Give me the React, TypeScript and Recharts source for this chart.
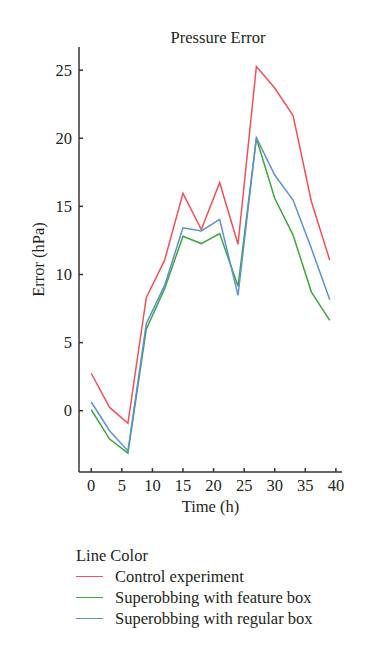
import * as React from "react";
import { LineChart, Line, XAxis, YAxis, Label } from "recharts";

const hours = [0, 3, 6, 9, 12, 15, 18, 21, 24, 27, 30, 33, 36, 39];
const control = [2.75, 0.24, -0.93, 8.3, 11.05, 15.96, 13.3, 16.74, 12.22, 25.26, 23.69, 21.67, 15.34, 11.05];
const featureBox = [0.07, -2.08, -3.12, 5.99, 8.96, 12.81, 12.27, 13.01, 9.13, 20.0, 15.59, 12.89, 8.71, 6.63];
const regularBox = [0.64, -1.47, -2.95, 6.38, 9.2, 13.43, 13.2, 14.04, 8.47, 20.05, 17.3, 15.46, 11.9, 8.15];

const xTicks = [0, 5, 10, 15, 20, 25, 30, 35, 40];
const yTicks = [0, 5, 10, 15, 20, 25];

const seriesNames = ["Control experiment", "Superobbing with feature box", "Superobbing with regular box"];
const seriesKeys = ["control", "feature", "regular"];
const seriesColors = ["#ef5159", "#3aa83a", "#5e90d6"];

const data = hours.map((t, i) => ({
  t,
  control: control[i],
  feature: featureBox[i],
  regular: regularBox[i],
}));

const FONT = '"Liberation Serif", "DejaVu Serif", serif';
const INK = "#231f20";
const AXIS = "#3b3331";
const TICK_GAP = 7;

function YTick({ x, y, payload }: any) {
  return (
    <g>
      <line x1={x + TICK_GAP} x2={x + TICK_GAP + 4} y1={y} y2={y} stroke={AXIS} strokeWidth={1.5} />
      <text x={x} y={y} dy={5.5} textAnchor="end" fontFamily={FONT} fontSize={16.5} fill={INK}>
        {payload.value}
      </text>
    </g>
  );
}

function XTick({ x, y, payload }: any) {
  return (
    <g>
      <line x1={x} x2={x} y1={y - TICK_GAP} y2={y - TICK_GAP - 4} stroke={AXIS} strokeWidth={1.5} />
      <text x={x} y={y} dy={12} textAnchor="middle" fontFamily={FONT} fontSize={16.5} fill={INK}>
        {payload.value}
      </text>
    </g>
  );
}

export default function App() {
  return (
    <div style={{ position: "absolute", left: 0, top: 0, width: 375, height: 660, background: "#fff" }}>
      <LineChart width={375} height={530} data={data} margin={{ top: 47, right: 33, left: 0, bottom: 30 }}>
        <XAxis
          dataKey="t"
          type="number"
          domain={[-2, 41]}
          ticks={xTicks}
          allowDataOverflow
          height={28}
          tickSize={0}
          tickMargin={TICK_GAP}
          tickLine={false}
          axisLine={{ stroke: AXIS, strokeWidth: 1.5 }}
          tick={<XTick />}
        >
          <Label value="Time (h)" position="bottom" offset={0} fontFamily={FONT} fontSize={16.5} fill={INK} />
        </XAxis>
        <YAxis
          type="number"
          domain={[-4.5, 26.7]}
          ticks={yTicks}
          allowDataOverflow
          width={79}
          tickSize={0}
          tickMargin={TICK_GAP}
          tickLine={false}
          axisLine={{ stroke: AXIS, strokeWidth: 1.5 }}
          tick={<YTick />}
        >
          <Label
            value="Error (hPa)"
            angle={-90}
            position="insideLeft"
            offset={38}
            style={{ textAnchor: "middle" }}
            fontFamily={FONT}
            fontSize={16.5}
            fill={INK}
          />
        </YAxis>
        {seriesKeys.map((k, i) => (
          <Line
            key={k}
            type="linear"
            dataKey={k}
            name={seriesNames[i]}
            stroke={seriesColors[i]}
            strokeWidth={1.5}
            dot={false}
            isAnimationActive={false}
          />
        ))}
        <text x={218} y={43} textAnchor="middle" fontFamily={FONT} fontSize={16.5} fill={INK}>
          Pressure Error
        </text>
      </LineChart>
      <div
        style={{
          position: "absolute",
          left: 76,
          top: 545,
          fontFamily: FONT,
          fontSize: 16.5,
          color: INK,
          lineHeight: "21px",
        }}
      >
        <div>Line Color</div>
        {seriesNames.map((n, i) => (
          <div key={n} style={{ display: "flex", alignItems: "center" }}>
            <span style={{ display: "inline-block", width: 27, height: 0, borderTop: `1.4px solid ${seriesColors[i]}`, marginRight: 12 }} />
            <span>{n}</span>
          </div>
        ))}
      </div>
    </div>
  );
}
